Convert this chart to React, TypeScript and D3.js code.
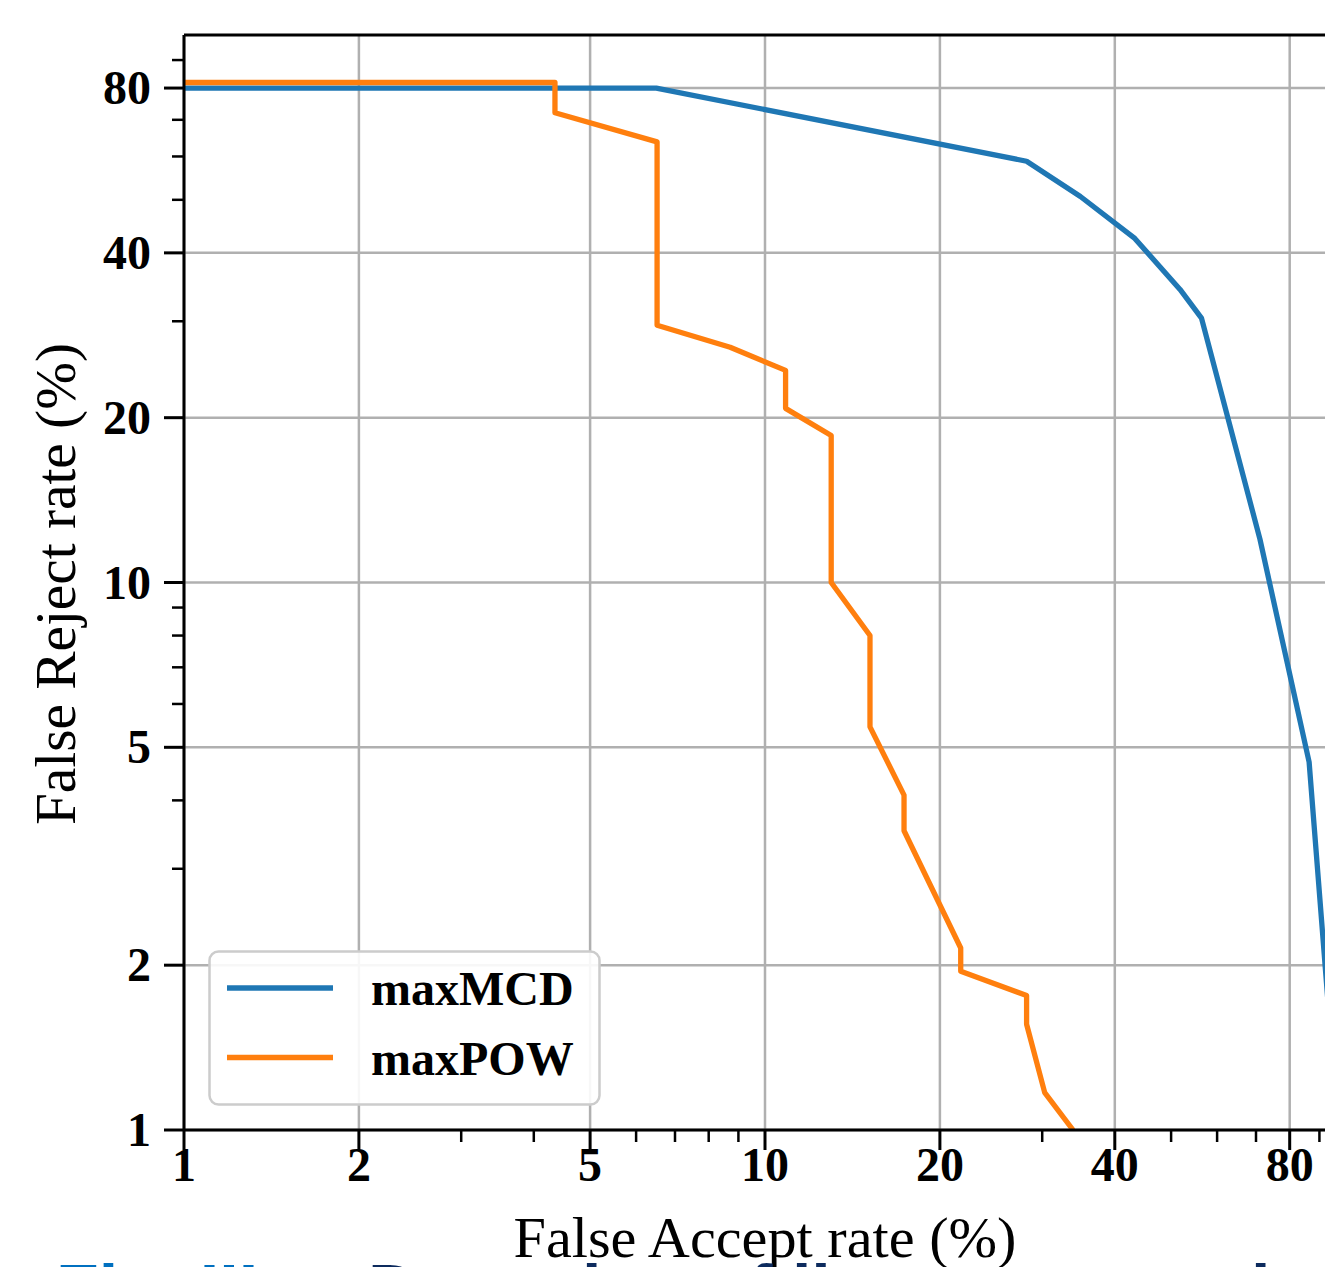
import React from "react";
import * as d3 from "d3";

// DET curve: false accept vs false reject, both log scaled (%)
const majorTicks = [1, 2, 5, 10, 20, 40, 80];
const minorTicks = [3, 4, 6, 7, 8, 9, 30, 50, 60, 70, 90];

const mcdFar = [1, 6.5, 28.2, 34.9, 43.3, 51.8, 56.4, 71.1, 86.4, 96.9];
const mcdFrr = [80, 80, 58.8, 50.7, 42.5, 34.3, 30.4, 12.0, 4.7, 1.0];

const powFar = [1, 4.35, 4.35, 6.52, 6.52, 8.71, 10.85, 10.85, 13.0, 13.0, 15.16, 15.16, 17.35, 17.35, 21.72, 21.72, 28.2, 28.2, 30.3, 33.9];
const powFrr = [81.9, 81.9, 72.1, 63.8, 29.5, 26.9, 24.4, 20.8, 18.55, 10.0, 8.0, 5.45, 4.09, 3.52, 2.15, 1.95, 1.76, 1.56, 1.17, 1.0];

const seriesNames = ["maxMCD", "maxPOW"];
const seriesColors = ["#1f77b4", "#ff7f0e"];

const W = 1325, H = 1267;
const plot = { left: 184, right: 1346, top: 35, bottom: 1130 };
const serif = "'Liberation Serif', 'Times New Roman', serif";

export default function App() {
  const x = d3.scaleLog().domain([1, 100]).range([plot.left, plot.right]);
  const y = d3.scaleLog().domain([1, 100]).range([plot.bottom, plot.top]);

  const line = d3.line<[number, number]>()
    .x(d => x(d[0]))
    .y(d => y(d[1]));

  const series = [
    d3.zip(mcdFar, mcdFrr) as [number, number][],
    d3.zip(powFar, powFrr) as [number, number][],
  ];

  return (
    <div style={{ position: "absolute", left: 0, top: 0 }}>
      <svg width={W} height={H} style={{ display: "block", background: "#fff" }}>
        <defs>
          <clipPath id="plotClip">
            <rect x={plot.left} y={plot.top} width={plot.right - plot.left} height={plot.bottom - plot.top} />
          </clipPath>
        </defs>

        {/* grid */}
        <g stroke="#b0b0b0" strokeWidth={2.5}>
          {majorTicks.map(t => (
            <line key={"gx" + t} x1={x(t)} x2={x(t)} y1={plot.top} y2={plot.bottom} />
          ))}
          {majorTicks.map(t => (
            <line key={"gy" + t} x1={plot.left} x2={plot.right} y1={y(t)} y2={y(t)} />
          ))}
        </g>

        {/* curves */}
        <g clipPath="url(#plotClip)" fill="none" strokeWidth={5.3} strokeLinejoin="round">
          {series.map((s, i) => (
            <path key={i} d={line(s) || ""} stroke={seriesColors[i]} />
          ))}
        </g>

        {/* spines */}
        <g stroke="#000" strokeWidth={3}>
          <line x1={plot.left} x2={plot.left} y1={plot.top} y2={plot.bottom} />
          <line x1={plot.left} x2={plot.right} y1={plot.bottom} y2={plot.bottom} />
          <line x1={plot.left} x2={plot.right} y1={plot.top} y2={plot.top} />
        </g>

        {/* ticks */}
        <g stroke="#000">
          {majorTicks.map(t => (
            <line key={"tx" + t} x1={x(t)} x2={x(t)} y1={plot.bottom} y2={plot.bottom + 20} strokeWidth={3} />
          ))}
          {minorTicks.map(t => (
            <line key={"mx" + t} x1={x(t)} x2={x(t)} y1={plot.bottom} y2={plot.bottom + 12} strokeWidth={2.5} />
          ))}
          {majorTicks.map(t => (
            <line key={"ty" + t} x1={plot.left - 20} x2={plot.left} y1={y(t)} y2={y(t)} strokeWidth={3} />
          ))}
          {minorTicks.map(t => (
            <line key={"my" + t} x1={plot.left - 12} x2={plot.left} y1={y(t)} y2={y(t)} strokeWidth={2.5} />
          ))}
        </g>

        {/* tick labels */}
        <g fontFamily={serif} fontWeight="bold" fontSize={48} fill="#000">
          {majorTicks.map(t => (
            <text key={"lx" + t} x={x(t)} y={plot.bottom + 51} textAnchor="middle">{t}</text>
          ))}
          {majorTicks.map(t => (
            <text key={"ly" + t} x={plot.left - 33} y={y(t) + 16} textAnchor="end">{t}</text>
          ))}
        </g>

        {/* axis titles */}
        <text x={765} y={1257} textAnchor="middle" fontFamily={serif} fontSize={56} fill="#000"
          textLength={503} lengthAdjust="spacingAndGlyphs">
          False Accept rate (%)
        </text>
        <text transform="translate(75,584) rotate(-90)" textAnchor="middle" fontFamily={serif} fontSize={56} fill="#000"
          textLength={482} lengthAdjust="spacingAndGlyphs">
          False Reject rate (%)
        </text>

        {/* legend */}
        <g>
          <rect x={209.5} y={951.5} width={390} height={153} rx={9} fill="#fff" fillOpacity={0.9} stroke="#cccccc" strokeWidth={2.5} />
          {seriesNames.map((n, i) => (
            <g key={n}>
              <line x1={227} x2={333} y1={988 + i * 69.5} y2={988 + i * 69.5} stroke={seriesColors[i]} strokeWidth={5.3} />
              <text x={371} y={1005 + i * 69.5} fontFamily={serif} fontWeight="bold" fontSize={48} fill="#000">{n}</text>
            </g>
          ))}
        </g>

        {/* caption below, cut off by the page edge */}
        <text x={56} y={1314} fontFamily="'Liberation Sans', Arial, sans-serif" fontWeight="bold" fontSize={70}>
          <tspan fill="#0070c0">Fig. III:</tspan>
          <tspan x={368} fill="#0d2b5e">Detection of liveness attacks</tspan>
        </text>
      </svg>
    </div>
  );
}
